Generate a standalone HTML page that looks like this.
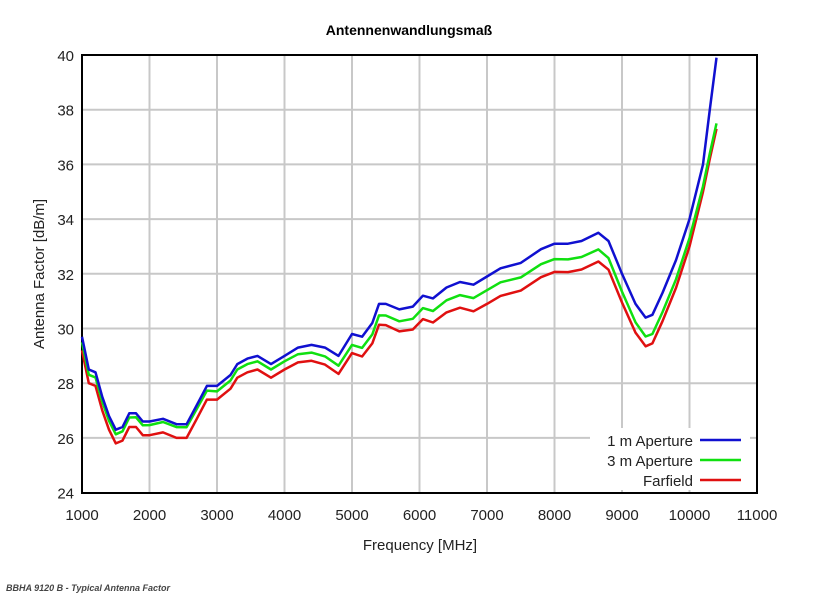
<!DOCTYPE html><html><head><style>body{margin:0;background:#fff}</style></head><body>
<svg id="s" width="813" height="597" xmlns="http://www.w3.org/2000/svg" font-family="Liberation Sans, sans-serif">
<rect width="813" height="597" fill="#fff"/>
<text x="409" y="35" text-anchor="middle" font-size="14" font-weight="bold">Antennenwandlungsmaß</text>
<g id="grid" stroke="#c8c8c8" stroke-width="2"></g>
<rect x="82" y="55" width="675" height="438" fill="none" stroke="#000" stroke-width="2"/>
<g id="lab" font-size="15" fill="#222"></g>
<text x="420" y="550" text-anchor="middle" font-size="15" fill="#222">Frequency [MHz]</text>
<text transform="translate(44,274) rotate(-90)" text-anchor="middle" font-size="15" fill="#222">Antenna Factor [dB/m]</text>
<g id="c" fill="none" stroke-width="2.5" stroke-linejoin="round"></g>
<g font-size="15" fill="#222" text-anchor="end">
<rect x="590" y="428" width="160" height="62" fill="#fff"/>
<text x="693" y="446">1 m Aperture</text><text x="693" y="466">3 m Aperture</text><text x="693" y="486">Farfield</text></g>
<line x1="700" y1="440" x2="741" y2="440" stroke="#1010d0" stroke-width="2.5"/>
<line x1="700" y1="460" x2="741" y2="460" stroke="#10e010" stroke-width="2.5"/>
<line x1="700" y1="480" x2="741" y2="480" stroke="#e01010" stroke-width="2.5"/>
<text x="6" y="591" font-size="9" font-weight="bold" font-style="italic" fill="#444">BBHA 9120 B - Typical Antenna Factor</text>
</svg>
<script>
var X=f=>82+(f-1000)*0.0675,Y=v=>55+(40-v)*27.35,ns="http://www.w3.org/2000/svg";
var g=document.getElementById('grid'),l=document.getElementById('lab');
function el(p,t,a,txt){var e=document.createElementNS(ns,t);for(var k in a)e.setAttribute(k,a[k]);if(txt)e.textContent=txt;p.appendChild(e);}
for(var f=1000;f<=11000;f+=1000){if(f>1000&&f<11000)el(g,'line',{x1:X(f),x2:X(f),y1:55,y2:493});el(l,'text',{x:X(f),y:520,'text-anchor':'middle'},f);}
for(var v=24;v<=40;v+=2){if(v>24&&v<40)el(g,'line',{x1:82,x2:757,y1:Y(v),y2:Y(v)});el(l,'text',{x:74,y:Y(v)+6,'text-anchor':'end'},v);}
var B=[[1000,29.7],[1100,28.5],[1200,28.4],[1300,27.5],[1400,26.8],[1500,26.3],[1600,26.4],[1700,26.9],[1800,26.9],[1900,26.6],[2000,26.6],[2200,26.7],[2400,26.5],[2550,26.5],[2700,27.2],[2850,27.9],[3000,27.9],[3200,28.3],[3300,28.7],[3450,28.9],[3600,29.0],[3800,28.7],[4000,29.0],[4200,29.3],[4400,29.4],[4600,29.3],[4800,29.0],[5000,29.8],[5150,29.7],[5300,30.2],[5400,30.9],[5500,30.9],[5700,30.7],[5900,30.8],[6050,31.2],[6200,31.1],[6400,31.5],[6600,31.7],[6800,31.6],[7000,31.9],[7200,32.2],[7500,32.4],[7800,32.9],[8000,33.1],[8200,33.1],[8400,33.2],[8650,33.5],[8800,33.2],[9000,32.0],[9200,30.9],[9350,30.4],[9450,30.5],[9600,31.3],[9800,32.5],[10000,34.0],[10200,36.0],[10300,38.0],[10400,39.9]];
function ip(t,f){for(var i=1;i<t.length;i++)if(f<=t[i][0]){var a=t[i-1],b=t[i];return a[1]+(b[1]-a[1])*(f-a[0])/(b[0]-a[0]);}return t[t.length-1][1];}
var G=[[1000,-0.2],[2500,-0.1],[3000,-0.2],[4000,-0.2],[5000,-0.4],[7000,-0.5],[8600,-0.6],[9400,-0.7],[10000,-0.7],[10200,-0.8],[10300,-1.6],[10400,-2.4]];
var R=[[1000,-0.5],[3000,-0.5],[4000,-0.5],[5000,-0.7],[7000,-1.0],[8600,-1.05],[9400,-1.05],[10000,-1.0],[10200,-1.0],[10300,-1.8],[10400,-2.6]];
var c=document.getElementById('c');
[[R,'#e01010'],[G,'#10e010'],[null,'#1010d0']].forEach(function(s){var p=B.map(function(q){var v=q[1]+(s[0]?ip(s[0],q[0]):0);return X(q[0]).toFixed(1)+','+Y(v).toFixed(1)}).join(' ');el(c,'polyline',{points:p,stroke:s[1]});});
</script></body></html>
